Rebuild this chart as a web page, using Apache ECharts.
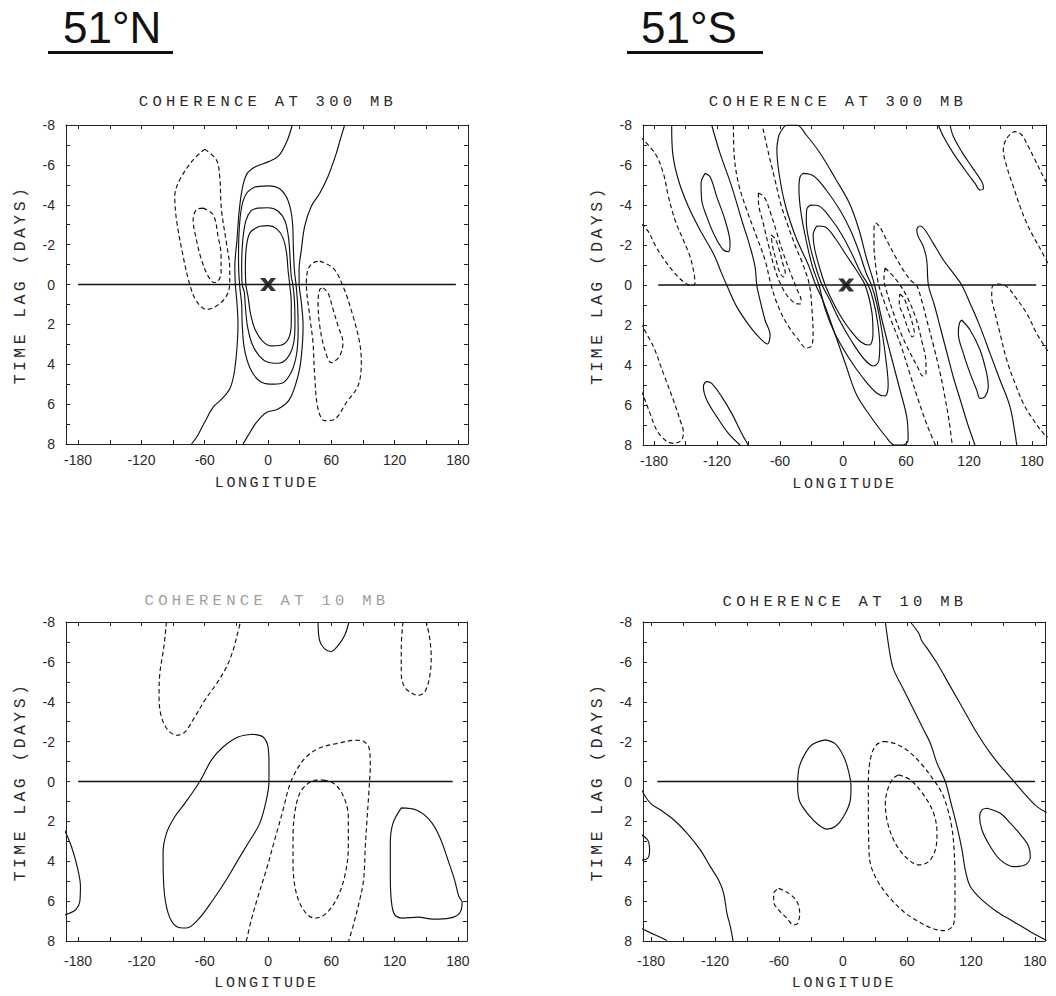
<!DOCTYPE html>
<html>
<head>
<meta charset="utf-8">
<script src="https://cdn.jsdelivr.net/npm/echarts@6/dist/echarts.min.js"></script>
<style>
  html, body { margin: 0; padding: 0; background: #fff; }
  #chart { width: 1056px; height: 996px; }
  /* plotter-style wide lettering for titles and axis names */
  #chart text[style*="15.5px"] { letter-spacing: 4.3px; }
  #chart text[style*="15px"] { letter-spacing: 2.6px; }
  #chart text[style*="16.5px"] { letter-spacing: 3.4px; }
</style>
</head>
<body>
<div id="chart"></div>
<script>
// ---------- axis ticks and labels ----------
const lonTicks  = [-180, -150, -120, -90, -60, -30, 0, 30, 60, 90, 120, 150, 180];
const lonLabels = [-180, -120, -60, 0, 60, 120, 180];
const lagTicks  = [-8, -7, -6, -5, -4, -3, -2, -1, 0, 1, 2, 3, 4, 5, 6, 7, 8];
const lagLabels = [-8, -6, -4, -2, 0, 2, 4, 6, 8];

const headers = ['51°N', '51°S'];
const panelTitles = ['COHERENCE AT 300 MB', 'COHERENCE AT 300 MB', 'COHERENCE AT 10 MB', 'COHERENCE AT 10 MB'];

// ---------- 51N, 300 mb : contours as [longitude, lag] ----------
const n300_solidWest = [[23,-8],[18,-7.2],[10,-6.45],[0,-6.15],[-12,-5.9],[-20,-5.55],[-24.5,-4.8],[-27.5,-3.6],[-29.5,-2.2],[-31.5,-0.9],[-31,0],[-29.5,0.9],[-28.5,2],[-29.5,3.2],[-32,4.4],[-36,5.2],[-44,5.75],[-52,6.15],[-60,6.9],[-67,7.6],[-72.5,8]];
const n300_solidEast = [[72.6,-8],[67.5,-7.1],[64.7,-6.58],[56.8,-5.42],[49,-4.58],[41,-3.92],[34.7,-2.92],[31.6,-1.75],[29.4,-0.75],[29.5,0],[31.6,0.92],[33.2,2.08],[31.6,3.58],[28.4,4.58],[20.5,5.75],[9.5,6.25],[-1.6,6.42],[-11,6.92],[-19,7.58],[-23.7,8]];
const n300_oval1 = [[-12,-4.9],[0,-4.95],[11,-4.8],[19,-4.2],[23,-3.2],[24,-1.8],[25,-0.7],[26.5,0],[28,1],[28.5,2.3],[27,3.5],[22,4.4],[13,4.95],[2,5],[-9,4.8],[-17,4.2],[-22.5,3.2],[-24.5,2],[-25,1],[-27,0],[-28,-1.2],[-27.5,-2.6],[-25,-3.9],[-20,-4.6],[-12,-4.9]];
const n300_oval2 = [[-10,-3.83],[0,-3.85],[9,-3.7],[16,-3.2],[19.5,-2.3],[21,-1.2],[22,-0.4],[23.5,0],[25,0.8],[25.5,2],[24,3],[18,3.7],[9,3.95],[0,3.9],[-8,3.6],[-15,3],[-19.5,2.1],[-21.5,1.1],[-22.5,0.4],[-24.5,0],[-25,-0.9],[-24,-2.2],[-21,-3.2],[-16,-3.7],[-10,-3.83]];
const n300_oval3 = [[-8,-2.92],[0,-2.95],[8,-2.8],[14,-2.35],[17.5,-1.6],[19,-0.7],[20.5,0],[22,0.9],[22,1.9],[19.5,2.7],[12,3.05],[3,3.08],[-5,2.85],[-12,2.3],[-16.5,1.5],[-19,0.6],[-21,0],[-21.5,-0.9],[-20.5,-1.9],[-17,-2.6],[-8,-2.92]];
const n300_dashWestOuter = [[-60,-6.78],[-49,-6.25],[-45.8,-5.4],[-44.2,-3.75],[-39.5,-2.1],[-36.3,-0.75],[-36.3,-0.08],[-39.5,0.58],[-49,1.08],[-58.4,1.25],[-67.9,0.83],[-74.2,0],[-80.5,-1.42],[-86.8,-3.25],[-88.4,-4.42],[-83.7,-5.25],[-71,-6.25],[-60,-6.78]];
const n300_dashWestInner = [[-61.6,-3.83],[-52,-3.5],[-47.4,-2.42],[-44.5,-1.42],[-44.5,-0.6],[-47,-0.2],[-51,-0.1],[-56.8,-0.42],[-63.2,-1.25],[-67.9,-2.25],[-71,-3.25],[-67.9,-3.75],[-61.6,-3.83]];
const n300_dashEastOuter = [[49,-1.17],[61.6,-0.83],[71,0.08],[80.5,1.58],[86.8,2.92],[88.4,3.92],[85.3,5.08],[74.2,5.92],[63.2,6.75],[53.7,6.83],[47.4,6.25],[44.2,4.58],[42.6,2.92],[39.5,1.58],[36.3,-0.08],[37.9,-0.75],[42.6,-1.08],[49,-1.17]];
const n300_dashEastInner = [[52.1,0.17],[56.8,0.42],[61.6,1.25],[66.3,2.08],[71,2.92],[67.9,3.58],[60,3.92],[53.7,3.25],[49,2.08],[47.4,0.92],[49,0.25],[52.1,0.17]];
const n300_zeroLine = [[-180,0],[178,0]];
const n300_base = [[0,0]];

// ---------- 51S, 300 mb ----------
const s300_solidLongLoop = [[-163.2,-8],[-162.2,-6.58],[-156.8,-5.25],[-147.3,-3.92],[-136.2,-2.75],[-123.5,-1.58],[-115.6,-0.58],[-110.8,0],[-101.3,1.08],[-88.6,2.08],[-79,2.67],[-72,2.95],[-69.5,2.5],[-74.3,1.75],[-80.6,0.42],[-82.2,0],[-83.8,-0.92],[-88.6,-1.92],[-96.5,-3.25],[-106,-4.92],[-117.1,-6.58],[-125.1,-8]];
const s300_solidSmallWest = [[-131.4,-5.58],[-126.7,-5.42],[-120.3,-4.42],[-112.4,-3.25],[-107.6,-2.08],[-109.2,-1.67],[-114,-1.75],[-121.9,-2.42],[-129.8,-3.42],[-134.6,-4.25],[-135.2,-5.08],[-131.4,-5.58]];
const s300_solidLowWest = [[-98.1,8],[-109.2,7.42],[-120.3,6.58],[-129.8,5.75],[-133,5.08],[-129.8,4.83],[-125.1,4.92],[-115.6,5.58],[-106,6.42],[-96.5,7.42],[-90.2,8]];
const s300_dashFarWest = [[-193,-7.4],[-179,-6.58],[-171.1,-5.58],[-166.3,-4.42],[-160,-3.25],[-152.1,-2.25],[-145.7,-1.42],[-141.9,-0.58],[-141,-0.08],[-144.1,0.03],[-152.1,-0.17],[-161.6,-0.67],[-171.1,-1.33],[-179,-2],[-185.4,-2.67],[-193,-3.1]];
const s300_dashSouthWest = [[-193,1.9],[-180.6,3.08],[-171.1,4.42],[-161.6,5.75],[-155.2,6.75],[-152.1,7.33],[-153.7,7.75],[-161.6,7.92],[-169.5,7.75],[-177.5,7.25],[-183.8,6.42],[-188.6,5.75],[-193,5.2]];
const s300_dashBandOuter = [[-104.4,-8],[-103.8,-6.6],[-99.7,-5.1],[-91.7,-3.75],[-82.2,-2.4],[-74.3,-1.25],[-68.5,0],[-63,0.9],[-54,1.9],[-43,2.7],[-35,3.15],[-30,3.05],[-28.5,2.4],[-29.5,1.3],[-32,0],[-38,-1],[-45,-1.9],[-52,-2.9],[-59,-4],[-65,-5.3],[-71,-6.6],[-77,-8]];
const s300_dashBandMid = [[-80.6,-4.6],[-75,-4.4],[-69,-3.6],[-63,-2.6],[-57,-1.6],[-50,-0.6],[-44,0.2],[-40,0.75],[-41,0.95],[-46,0.9],[-53,0.55],[-60,-0.1],[-65.5,-0.9],[-71,-2],[-76.5,-3.2],[-80.5,-4.1],[-80.6,-4.6]];
const s300_dashBandInner = [[-68.5,-2.5],[-64.5,-2.3],[-61,-1.8],[-57.5,-1.1],[-55,-0.6],[-56.5,-0.4],[-60,-0.6],[-63.5,-1.2],[-67,-1.9],[-68.5,-2.5]];
const s300_ell1 = [[-61,-7.5],[-53,-8],[-44,-8],[-35,-7.5],[-22,-6.6],[-7,-5.3],[6,-4.1],[15,-2.8],[22,-1.4],[30,0],[36,1.5],[45,3.4],[54,5.2],[61,6.7],[62,7.75],[57,8],[49,8],[41,7.6],[28,6.7],[13,5.5],[2,3.9],[-10,2.1],[-19,0.8],[-26,0],[-33,-1],[-45,-2.4],[-55,-4],[-61,-5.6],[-63,-6.8],[-61,-7.5]];
const s300_ell2 = [[-38,-5.58],[-28,-5.45],[-16,-4.75],[-3,-3.75],[7,-2.75],[15,-1.7],[22,-0.6],[27,0],[32,0.9],[37,2.3],[41,3.8],[43,5],[40,5.55],[32,5.4],[19,4.65],[5,3.6],[-8,2.4],[-17,1.2],[-23,0],[-29,-0.9],[-35,-2.2],[-40,-3.6],[-42,-4.8],[-41,-5.4],[-38,-5.58]];
const s300_ell3 = [[-31,-4],[-23,-3.95],[-12,-3.35],[-1,-2.5],[9,-1.5],[17,-0.6],[24,0],[29,0.8],[33,1.9],[35,3],[34,3.8],[29,4.05],[20,3.7],[8,2.8],[-4,1.7],[-13,0.7],[-20,0],[-26,-0.9],[-32,-2.1],[-35,-3.2],[-34.5,-3.8],[-31,-4]];
const s300_ell4 = [[-25,-2.95],[-17,-2.9],[-7,-2.3],[3,-1.5],[12,-0.8],[18,-0.3],[21,0],[25,0.7],[28,1.6],[28.5,2.5],[25,3],[17,2.85],[6,2.2],[-4,1.4],[-12,0.6],[-17,0],[-22,-0.8],[-27,-1.8],[-28.5,-2.5],[-25,-2.95]];
const s300_dashEastOuter = [[88,8],[80,7],[72,5.8],[64,4.5],[55,3],[46,1.8],[39,0.8],[34,0],[31,-1],[29.5,-2],[29.5,-2.8],[31,-3.1],[35,-2.9],[42,-2.2],[50,-1.4],[58,-0.7],[65,-0.2],[70,0],[75,0.8],[80,1.8],[86,3],[92,4.3],[97,5.6],[101,6.8],[104,8]];
const s300_dashEastMid = [[40,-0.85],[45,-0.6],[53,-0.1],[61,0.6],[69,1.6],[75,2.8],[79,3.9],[79,4.45],[76,4.55],[71,4.1],[63,3.3],[55,2.4],[48,1.4],[42.5,0.5],[39,-0.3],[40,-0.85]];
const s300_dashEastInner = [[54,0.45],[58,0.65],[62.5,1.3],[66.5,2],[68,2.45],[66,2.6],[62,2.2],[57.5,1.5],[53.5,0.95],[54,0.45]];
const s300_solidEastLoop = [[125.7,8],[119,7],[112,5.8],[105,4.6],[99,3.4],[93,2.2],[87,1],[81.3,0],[79.7,-1.25],[76.5,-1.92],[71.7,-2.42],[70.2,-2.75],[73.3,-2.95],[78.1,-2.75],[86,-2.08],[95.6,-1.25],[105.1,-0.58],[113,0],[121,0.92],[130.5,2.08],[140,3.42],[149.5,4.75],[159,6.08],[163.8,7.42],[165.4,8]];
const s300_solidSmallEast = [[113,1.75],[121,2.25],[130.5,3.25],[136.8,4.42],[138.4,5.08],[135.2,5.58],[130.5,5.67],[127.3,5.25],[121,4.42],[114.6,3.42],[109.8,2.42],[110.8,1.92],[113,1.75]];
const s300_solidNorthEast = [[90.8,-8],[95.6,-7.42],[105.1,-6.58],[116.2,-5.75],[125.7,-5.08],[130.5,-4.75],[133.7,-4.83],[132.1,-5.17],[122.5,-5.92],[113,-6.67],[105.1,-7.42],[101.9,-8]];
const s300_dashNorthEast = [[195,-1.1],[187.6,-1.83],[181.3,-2.42],[175,-3.08],[168.6,-3.92],[162.2,-4.92],[155.9,-5.92],[152.7,-6.75],[155.9,-7.33],[163.8,-7.67],[170.2,-7.5],[176.5,-6.92],[182.9,-6.25],[189.2,-5.58],[195,-5]];
const s300_dashSouthEast = [[195,3.3],[184.4,2.42],[175,1.42],[163.8,0.58],[155.9,0.08],[148,-0.05],[142,0.1],[141.6,0.6],[143.2,1.08],[149.5,2.42],[155.9,3.75],[163.8,4.92],[171.7,5.92],[181.3,6.75],[190.8,7.42],[195,7.6]];
const s300_zeroLine = [[-176,0],[184,0]];
const s300_base = [[3,0]];

// ---------- 51N, 10 mb ----------
const n10_solidLoopWest = [[-14.2,-2.37],[-4.7,-2.23],[0,-1.73],[0.9,-0.9],[0.9,0],[-1.6,0.93],[-7.9,2.1],[-18.9,3.1],[-28.4,3.93],[-39.5,4.93],[-52.1,5.93],[-66.3,6.93],[-77.4,7.35],[-86.8,7.27],[-94.7,6.6],[-98.8,5.27],[-99.5,3.6],[-96.3,2.6],[-88.4,1.77],[-78.9,1.1],[-64.7,0],[-53.7,-1.07],[-42.6,-1.73],[-28.4,-2.23],[-14.2,-2.37]];
const n10_solidEdgeWest = [[-193,2.43],[-186.3,3.27],[-180.9,4.27],[-177.8,5.27],[-178.4,6.02],[-182.2,6.43],[-187.9,6.6],[-193,6.7]];
const n10_solidNorthCap = [[47.4,-8],[48.9,-7.07],[53.7,-6.65],[59.4,-6.52],[66.3,-6.82],[72.6,-7.32],[76.7,-8]];
const n10_solidLoopEast = [[126.3,1.32],[140.5,1.43],[153.1,1.93],[162.6,2.77],[170.5,3.93],[176.8,4.93],[180.9,5.77],[184,6.05],[181.6,6.6],[172.1,6.85],[156.3,6.9],[142.1,6.8],[127.9,6.85],[120,6.68],[116.8,5.93],[115.9,4.6],[115.9,3.1],[118.4,2.1],[126.3,1.32]];
const n10_dashNorthWest = [[-96.3,-8],[-98.8,-6.73],[-102.6,-5.4],[-103.3,-4.23],[-101,-3.23],[-94.7,-2.57],[-86.8,-2.32],[-78.9,-2.48],[-69.5,-3.23],[-60,-4.07],[-48.9,-4.9],[-39.5,-5.73],[-33.2,-6.57],[-29,-7.4],[-26.2,-8]];
const n10_dashNorthEast = [[127.9,-8],[126.3,-6.73],[126.3,-5.4],[129.5,-4.73],[137.4,-4.4],[142.1,-4.32],[148.4,-4.48],[153.1,-5.23],[154.7,-6.23],[153.1,-7.23],[150,-8]];
const n10_dashArch = [[-20.5,8],[-15.8,6.93],[-9.5,5.77],[-1.6,4.43],[6.3,2.93],[14.2,1.43],[19.9,0.27],[25.3,-0.4],[34.7,-1.15],[47.4,-1.65],[64.7,-1.9],[83.7,-2.07],[91.6,-1.98],[96.3,-1.57],[96.9,-0.73],[95.7,0.43],[93.8,1.93],[92.2,3.27],[90.6,4.93],[86.2,6.1],[80.5,7.27],[76.4,8]];
const n10_dashInner = [[52.7,-0.07],[63.2,0.13],[71.7,0.77],[76.1,1.77],[76.1,3.27],[72.6,4.77],[64.7,5.93],[53.7,6.68],[44.2,6.85],[34.7,6.52],[26.8,5.6],[23.7,4.1],[23.7,2.77],[25.3,1.6],[30,0.6],[37.9,0.1],[45.8,-0.07],[52.7,-0.07]];
const n10_zeroLine = [[-180,0],[175,0]];

// ---------- 51S, 10 mb ----------
const s10_solidLoop = [[-16.6,-2.09],[-7.2,-1.89],[0.6,-1.26],[5.3,-0.5],[7.5,0.25],[6.9,0.92],[0.6,1.76],[-7.2,2.26],[-15,2.39],[-22.8,2.18],[-32.2,1.67],[-40.6,1],[-42.5,0.25],[-41.6,-0.59],[-36.9,-1.26],[-29.1,-1.84],[-16.6,-2.09]];
const s10_dashOuter = [[38.1,-2.01],[49.1,-1.89],[61.6,-1.51],[74.1,-0.84],[85,-0.08],[93,0.6],[98.5,1.45],[102,2.3],[104,3.26],[105,4.94],[105,6.28],[103.5,7.2],[94.4,7.48],[83.4,7.36],[70.9,7.03],[56.9,6.53],[42.8,5.77],[31.9,4.94],[25.6,4.1],[24.1,2.93],[23.8,1.59],[23.8,-0.08],[26.3,-1.26],[31.3,-1.84],[38.1,-2.01]];
const s10_dashInner = [[52.2,-0.33],[63.1,-0.08],[75.6,0.67],[85,1.59],[88.1,2.59],[86.6,3.43],[80.3,4.02],[70.9,4.18],[60,3.85],[49.1,3.1],[41.9,2.09],[39.7,1.09],[42.8,0.25],[47.5,-0.17],[52.2,-0.33]];
const s10_dashSmall = [[-60.3,5.36],[-50.9,5.61],[-43.1,6.03],[-40.6,6.61],[-42.5,7.11],[-46.3,7.2],[-52.5,6.86],[-60.3,6.44],[-65,6.03],[-65,5.61],[-60.3,5.36]];
const s10_solidMid = [[39.7,-8],[44.4,-6.28],[47.5,-5.61],[56.9,-4.6],[66.3,-3.6],[75.6,-2.59],[81.9,-1.92],[88.1,-0.92],[95.9,0],[101.3,1.09],[106.9,2.26],[111.6,3.43],[114.7,4.44],[119.4,5.27],[130.3,5.94],[144.4,6.53],[160,7.03],[175.6,7.53],[191,7.97]];
const s10_solidEast = [[63.1,-8],[70.9,-7.45],[74.1,-7.03],[78.8,-6.69],[88.1,-5.94],[100.6,-4.77],[113.1,-3.6],[125.6,-2.43],[138.1,-1.42],[150.6,-0.59],[161.6,0.08],[172.5,0.75],[181.9,1.26],[191,1.55]];
const s10_solidLoopEast = [[135,1.34],[147.5,1.59],[156.9,2.09],[167.8,2.76],[174.1,3.26],[175.6,3.77],[170.9,4.18],[160,4.27],[147.5,3.93],[138.1,3.26],[130.3,2.43],[128.1,1.76],[130.3,1.42],[135,1.34]];
const s10_solidSouthWest = [[-189,0.4],[-180.6,1.09],[-171.3,1.42],[-158.8,1.92],[-146.3,2.59],[-133.8,3.43],[-124.4,4.27],[-116.6,4.94],[-111.9,5.61],[-108.8,6.61],[-105.6,7.28],[-103.1,8]];
const s10_solidEdgeWest = [[-189,2.68],[-183.1,2.93],[-181.3,3.43],[-183.1,3.85],[-189,3.95]];
const s10_solidCorner = [[-189,7.36],[-176,7.7],[-165,7.97]];
const s10_zeroLine = [[-174,0],[180,0]];

// ---------- which contours belong to which panel ----------
const panelContours = [
  { solid: [n300_solidWest, n300_solidEast, n300_oval1, n300_oval2, n300_oval3],
    dashed: [n300_dashWestOuter, n300_dashWestInner, n300_dashEastOuter, n300_dashEastInner],
    zero: n300_zeroLine, base: n300_base },
  { solid: [s300_solidLongLoop, s300_solidSmallWest, s300_solidLowWest, s300_ell1, s300_ell2, s300_ell3, s300_ell4,
            s300_solidEastLoop, s300_solidSmallEast, s300_solidNorthEast],
    dashed: [s300_dashFarWest, s300_dashSouthWest, s300_dashBandOuter, s300_dashBandMid, s300_dashBandInner,
             s300_dashEastOuter, s300_dashEastMid, s300_dashEastInner, s300_dashNorthEast, s300_dashSouthEast],
    zero: s300_zeroLine, base: s300_base },
  { solid: [n10_solidLoopWest, n10_solidEdgeWest, n10_solidNorthCap, n10_solidLoopEast],
    dashed: [n10_dashNorthWest, n10_dashNorthEast, n10_dashArch, n10_dashInner],
    zero: n10_zeroLine, base: null },
  { solid: [s10_solidLoop, s10_solidMid, s10_solidEast, s10_solidLoopEast, s10_solidSouthWest, s10_solidEdgeWest, s10_solidCorner],
    dashed: [s10_dashOuter, s10_dashInner, s10_dashSmall],
    zero: s10_zeroLine, base: null }
];

// ---------- layout ----------
const frames = [
  { left: 66,  top: 125, width: 402, height: 319, lon: [-191.5, 189.5], labelMargin: 9,  nameGap: 32, titleX: 268, titleY: 102, titleColor: '#2a2a2a' },
  { left: 643, top: 125, width: 403, height: 320, lon: [-190.5, 193.3], labelMargin: 9,  nameGap: 32, titleX: 838, titleY: 102, titleColor: '#2a2a2a' },
  { left: 66,  top: 622, width: 401, height: 319, lon: [-191.5, 188.6], labelMargin: 13, nameGap: 35, titleX: 267, titleY: 601, titleColor: '#a0a0a0' },
  { left: 643, top: 622, width: 402, height: 319, lon: [-187.5, 189.4], labelMargin: 13, nameGap: 35, titleX: 845, titleY: 602, titleColor: '#2a2a2a' }
];

const INK = '#111';
const AXIS = '#222';
const TEXT = '#2a2a2a';
const LETTER_FONT = 'Liberation Mono';
const crossPath = 'path://M0,0H4.2L6.5,3.2L8.8,0H13L8.6,5.5L13,11H8.8L6.5,7.8L4.2,11H0L4.4,5.5Z';

const grid = [], xAxis = [], yAxis = [], series = [];

frames.forEach((f, i) => {
  grid.push({ left: f.left, top: f.top, width: f.width, height: f.height, containLabel: false });
  const axLine = { show: true, onZero: false, lineStyle: { color: AXIS, width: 1 } };
  const lonTick = { show: true, inside: true, length: 4, customValues: lonTicks, lineStyle: { color: AXIS, width: 1 } };
  const lagTick = { show: true, inside: true, length: 4, customValues: lagTicks, lineStyle: { color: AXIS, width: 1 } };
  xAxis.push({
    gridIndex: i, type: 'value', min: f.lon[0], max: f.lon[1], position: 'bottom',
    axisLine: axLine, axisTick: lonTick, splitLine: { show: false },
    axisLabel: { show: true, customValues: lonLabels, margin: f.labelMargin, fontSize: 14,
                 fontFamily: 'Liberation Sans', color: TEXT },
    name: 'LONGITUDE', nameLocation: 'middle', nameGap: f.nameGap,
    nameTextStyle: { fontFamily: LETTER_FONT, fontSize: 15, color: TEXT }
  });
  xAxis.push({
    gridIndex: i, type: 'value', min: f.lon[0], max: f.lon[1], position: 'top',
    axisLine: axLine, axisTick: lonTick, splitLine: { show: false }, axisLabel: { show: false }
  });
  yAxis.push({
    gridIndex: i, type: 'value', min: -8, max: 8, inverse: true, position: 'left',
    axisLine: axLine, axisTick: lagTick, splitLine: { show: false },
    axisLabel: { show: true, customValues: lagLabels, margin: 11, fontSize: 14,
                 fontFamily: 'Liberation Sans', color: TEXT },
    name: 'TIME LAG (DAYS)', nameLocation: 'middle', nameRotate: 90, nameGap: 37,
    nameTextStyle: { fontFamily: LETTER_FONT, fontSize: 16.5, color: TEXT }
  });
  yAxis.push({
    gridIndex: i, type: 'value', min: -8, max: 8, inverse: true, position: 'right',
    axisLine: axLine, axisTick: lagTick, splitLine: { show: false }, axisLabel: { show: false }
  });

  const c = panelContours[i];
  const xi = i * 2, yi = i * 2;
  const line = (pts, dashed) => ({
    type: 'line', xAxisIndex: xi, yAxisIndex: yi, data: pts,
    symbol: 'none', showSymbol: false, smooth: 0.35, clip: true, silent: true,
    lineStyle: { color: INK, width: 1.15, type: dashed ? [4.5, 3] : 'solid' }, z: 3
  });
  c.solid.forEach(p => series.push(line(p, false)));
  c.dashed.forEach(p => series.push(line(p, true)));
  series.push({
    type: 'line', xAxisIndex: xi, yAxisIndex: yi, data: c.zero, symbol: 'none', silent: true,
    lineStyle: { color: INK, width: 1.4 }, z: 4
  });
  if (c.base) {
    series.push({
      type: 'scatter', xAxisIndex: xi, yAxisIndex: yi, data: c.base, symbol: crossPath,
      symbolSize: [16, 13], itemStyle: { color: '#000' }, silent: true, z: 5
    });
  }
});

const graphic = [];
// hemisphere headers with underline
const headerPos = [{ x: 63, lineX: 48, lineW: 125 }, { x: 641, lineX: 627, lineW: 136 }];
headers.forEach((h, k) => {
  graphic.push({ type: 'text', style: { text: h, x: headerPos[k].x, y: 27, fontSize: 44,
    fontFamily: 'Liberation Sans', fill: INK, textVerticalAlign: 'middle', verticalAlign: 'middle' } });
  graphic.push({ type: 'rect', shape: { x: headerPos[k].lineX, y: 51, width: headerPos[k].lineW, height: 3 },
    style: { fill: INK } });
});
// panel titles
frames.forEach((f, i) => {
  graphic.push({ type: 'text', style: { text: panelTitles[i], x: f.titleX, y: f.titleY, fontSize: 15.5,
    fontFamily: LETTER_FONT, fill: f.titleColor, textAlign: 'center', align: 'center',
    textVerticalAlign: 'middle', verticalAlign: 'middle' } });
});

const chart = echarts.init(document.getElementById('chart'), null, { renderer: 'svg', width: 1056, height: 996 });
chart.setOption({
  backgroundColor: '#ffffff',
  animation: false,
  grid, xAxis, yAxis, series, graphic
});
</script>
</body>
</html>
